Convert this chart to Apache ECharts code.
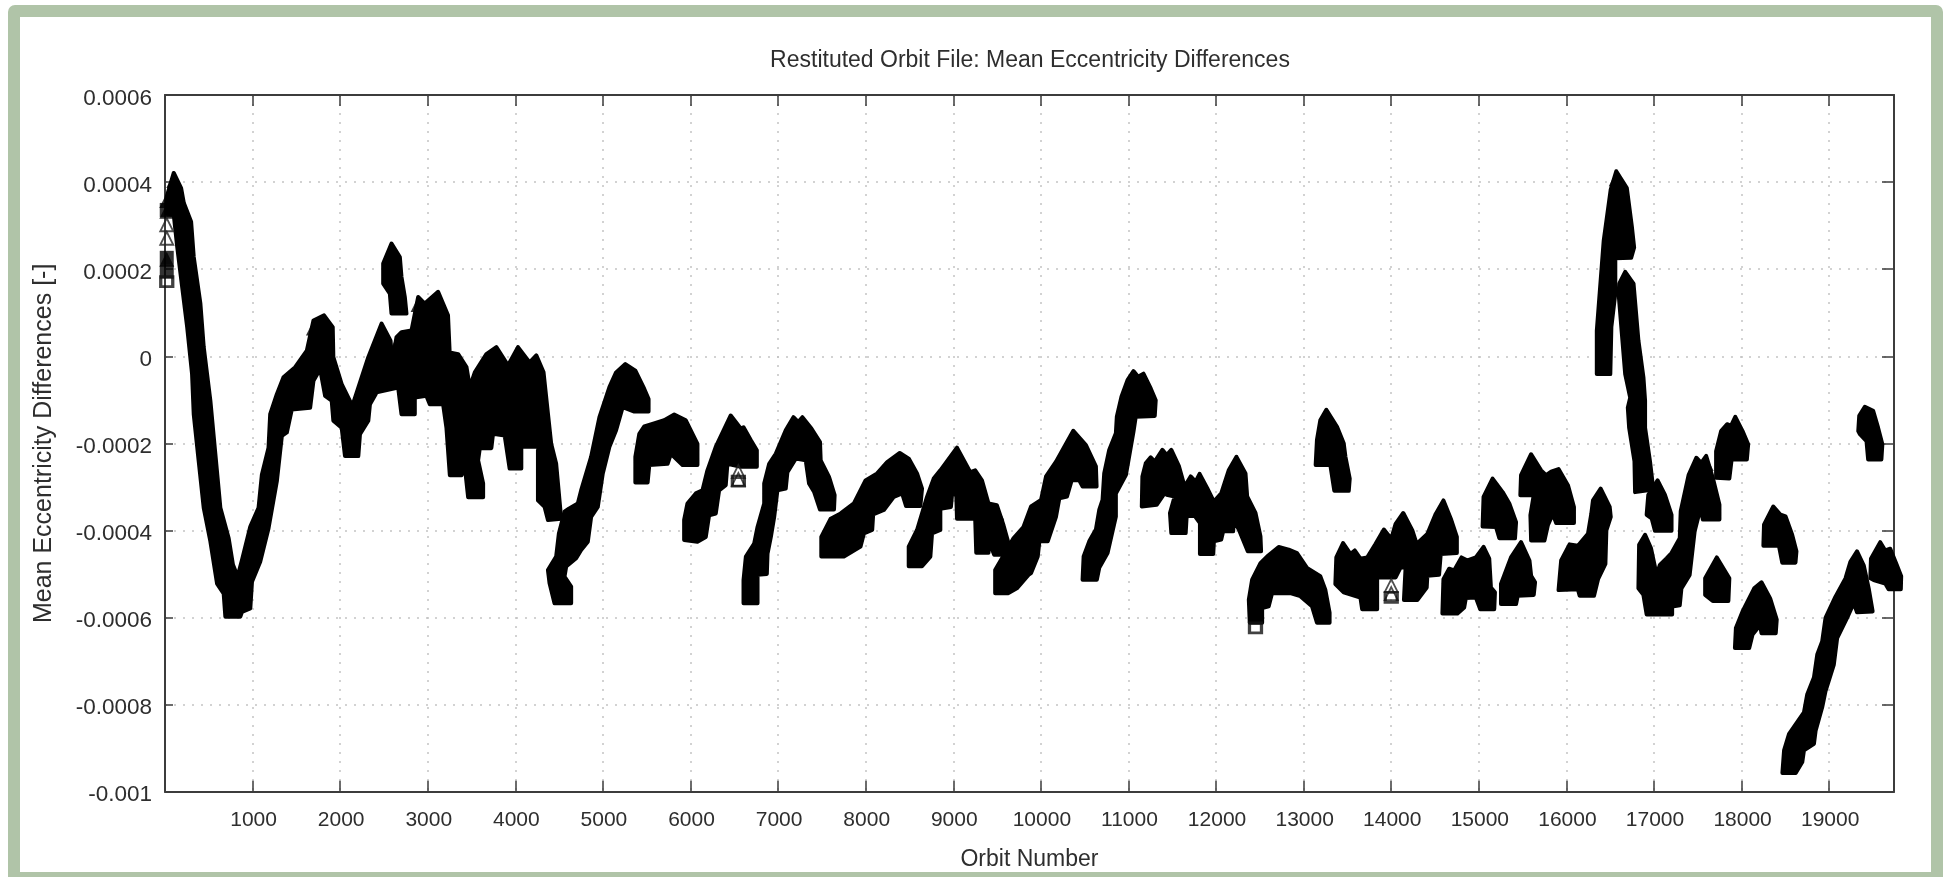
<!DOCTYPE html>
<html><head><meta charset="utf-8">
<style>
html,body{margin:0;padding:0;background:#fff;overflow:hidden}
#frame{position:absolute;left:8px;top:5px;width:1911px;height:855px;border:solid #b0c4a8;border-width:12px 12px 5px 12px;border-radius:7px 7px 0 0}
#c{position:absolute;left:0;top:0;width:1947px;height:877px;filter:blur(0.55px)}
</style>
<script src="https://cdn.jsdelivr.net/npm/echarts@6/dist/echarts.min.js"></script>
</head><body><div id="frame"></div><div id="c"></div>
<script>
// Values are [orbit number, difference in units of 1e-4]
const UNIT = 1e-4;
const xTickLabels = ['1000','2000','3000','4000','5000','6000','7000','8000','9000','10000','11000','12000','13000','14000','15000','16000','17000','18000','19000'];
const yTickLabels = ['-0.001','-0.0008','-0.0006','-0.0004','-0.0002','0','0.0002','0.0004','0.0006'];

const bandMain = [[20,3.67],[100,4.21],[184,3.86],[215,3.52],[298,3.09],[328,2.28],[404,1.21],[442,0.21],[518,-1.02],[575,-2.25],[632,-3.48],[727,-4.18],[776,-4.79],[829,-5.06],[879,-4.68],[974,-3.91],[1068,-3.48],[1106,-2.72],[1182,-2.10],[1201,-1.33],[1277,-0.87],[1353,-0.48],[1486,-0.25],[1619,0.13],[1695,0.82],[1816,0.94],[1915,0.67],[1922,-0.02],[2017,-0.64],[2139,-1.14],[2207,-0.72],[2321,-0.02],[2473,0.75],[2575,0.36],[2594,-0.14],[2643,0.44],[2700,0.55],[2814,0.59],[2890,1.36],[2966,1.21],[3118,1.48],[3231,0.94],[3250,0.09],[3347,0.05],[3442,-0.25],[3480,-0.71],[3537,-0.37],[3669,0.05],[3783,0.21],[3916,-0.21],[4030,0.21],[4163,-0.14],[4239,0.02],[4322,-0.37],[4372,-1.32],[4409,-2.01],[4466,-2.47],[4523,-3.73],[4372,-3.76],[4334,-3.46],[4258,-3.31],[4258,-2.16],[4277,-2.08],[4068,-2.08],[4068,-2.58],[3935,-2.58],[3878,-1.82],[3745,-1.78],[3726,-2.11],[3594,-2.11],[3575,-2.39],[3632,-2.92],[3632,-3.24],[3461,-3.24],[3423,-2.54],[3385,-2.73],[3252,-2.73],[3213,-1.64],[3175,-1.10],[3023,-1.10],[2985,-0.91],[2852,-0.95],[2852,-1.33],[2700,-1.33],[2662,-0.72],[2416,-0.83],[2340,-1.10],[2321,-1.48],[2226,-1.79],[2207,-2.29],[2055,-2.29],[2017,-1.64],[1922,-1.48],[1903,-1.02],[1828,-0.91],[1771,-0.29],[1695,-0.56],[1657,-1.18],[1448,-1.22],[1391,-1.75],[1334,-1.83],[1277,-2.87],[1182,-3.95],[1087,-4.72],[993,-5.18],[974,-5.79],[879,-5.87],[860,-5.98],[689,-5.98],[670,-5.45],[594,-5.22],[518,-4.25],[442,-3.48],[385,-2.41],[328,-1.33],[309,-0.41],[253,0.67],[196,1.59],[139,2.52],[100,3.25],[20,3.28]];
const band2600 = [[2586,2.59],[2681,2.28],[2700,1.82],[2738,1.36],[2757,0.98],[2586,0.98],[2567,1.44],[2491,1.67],[2491,2.13]];
const band4500 = [[4447,-5.67],[4390,-5.21],[4372,-4.91],[4466,-4.60],[4497,-4.07],[4561,-3.57],[4611,-3.50],[4713,-3.38],[4751,-3.08],[4865,-2.31],[4960,-1.40],[5074,-0.71],[5150,-0.37],[5256,-0.18],[5370,-0.33],[5472,-0.75],[5521,-0.98],[5521,-1.27],[5358,-1.27],[5225,-1.17],[5150,-1.70],[5074,-2.08],[4998,-2.69],[4941,-3.46],[4865,-3.69],[4827,-4.26],[4751,-4.45],[4694,-4.64],[4580,-4.83],[4561,-5.06],[4637,-5.29],[4637,-5.67]];
const band5400 = [[5370,-2.31],[5415,-1.78],[5472,-1.61],[5574,-1.55],[5700,-1.47],[5814,-1.34],[5946,-1.47],[6079,-2.01],[6079,-2.50],[5909,-2.50],[5776,-2.24],[5738,-2.47],[5529,-2.50],[5510,-2.90],[5370,-2.90]];
const band6000 = [[5927,-4.22],[5927,-3.76],[5965,-3.38],[6060,-3.15],[6136,-3.08],[6193,-2.62],[6288,-2.08],[6459,-1.36],[6573,-1.66],[6605,-1.63],[6689,-1.93],[6757,-2.16],[6757,-2.54],[6575,-2.54],[6421,-2.47],[6402,-2.96],[6326,-3.08],[6288,-3.61],[6212,-3.65],[6174,-4.15],[6079,-4.26]];
const band6600 = [[6605,-5.67],[6605,-5.14],[6632,-4.60],[6727,-4.30],[6765,-3.92],[6841,-3.38],[6841,-2.92],[6898,-2.47],[6973,-2.24],[7087,-1.70],[7175,-1.40],[7228,-1.51],[7277,-1.40],[7380,-1.66],[7478,-1.97],[7486,-2.39],[7581,-2.77],[7645,-3.19],[7638,-3.52],[7478,-3.52],[7410,-3.11],[7353,-2.92],[7315,-2.39],[7201,-2.35],[7106,-2.66],[7087,-3.04],[6992,-3.08],[6955,-3.69],[6917,-4.15],[6879,-4.53],[6871,-5.00],[6765,-5.02],[6765,-5.67]];
const band7500 = [[7493,-4.60],[7493,-4.15],[7600,-3.73],[7714,-3.61],[7865,-3.38],[7998,-2.85],[8131,-2.69],[8245,-2.43],[8389,-2.22],[8491,-2.35],[8586,-2.69],[8643,-3.04],[8624,-3.44],[8461,-3.44],[8416,-3.15],[8321,-3.23],[8207,-3.53],[8085,-3.63],[8074,-3.99],[7979,-4.07],[7941,-4.37],[7751,-4.60]];
const band8500 = [[8491,-4.82],[8491,-4.37],[8586,-3.99],[8700,-3.23],[8776,-2.81],[8852,-2.62],[9042,-2.10],[9194,-2.66],[9250,-2.62],[9327,-2.85],[9402,-3.38],[9497,-3.42],[9573,-3.88],[9641,-4.37],[9630,-4.56],[9467,-4.56],[9402,-4.22],[9402,-4.51],[9262,-4.51],[9250,-3.73],[9042,-3.73],[9034,-3.15],[8985,-3.19],[8973,-3.46],[8852,-3.50],[8852,-3.99],[8757,-4.07],[8738,-4.60],[8643,-4.82]];
const band9500 = [[9478,-5.44],[9478,-4.91],[9611,-4.45],[9687,-4.18],[9801,-3.92],[9888,-3.45],[10002,-3.30],[10059,-2.76],[10173,-2.42],[10370,-1.71],[10514,-2.04],[10628,-2.53],[10636,-2.99],[10476,-2.99],[10438,-2.85],[10351,-2.85],[10298,-3.22],[10211,-3.26],[10173,-3.68],[10078,-4.25],[9983,-4.25],[9964,-4.60],[9888,-4.98],[9858,-5.02],[9725,-5.33],[9630,-5.44]];
const band10500 = [[10476,-5.13],[10488,-4.60],[10552,-4.25],[10628,-3.98],[10666,-3.53],[10704,-3.30],[10723,-2.69],[10780,-2.15],[10856,-1.77],[10867,-1.39],[10920,-0.93],[10989,-0.55],[11057,-0.34],[11110,-0.47],[11171,-0.40],[11254,-0.74],[11311,-1.01],[11300,-1.37],[11083,-1.39],[11057,-1.73],[10970,-2.73],[10856,-3.15],[10856,-3.68],[10761,-4.52],[10666,-4.86],[10639,-5.13]];
const band11200 = [[11152,-3.45],[11159,-2.76],[11197,-2.46],[11254,-2.32],[11300,-2.42],[11387,-2.15],[11436,-2.27],[11489,-2.15],[11577,-2.53],[11641,-2.99],[11710,-2.76],[11767,-2.88],[11812,-2.70],[11899,-3.03],[11975,-3.34],[12059,-3.15],[12146,-2.61],[12233,-2.31],[12336,-2.69],[12355,-3.22],[12450,-3.60],[12507,-4.14],[12514,-4.48],[12362,-4.48],[12260,-3.98],[12203,-3.76],[12195,-4.02],[12081,-4.02],[12059,-4.21],[11975,-4.25],[11968,-4.54],[11816,-4.54],[11816,-3.83],[11748,-3.64],[11664,-3.68],[11653,-4.06],[11489,-4.06],[11474,-3.60],[11527,-3.22],[11436,-3.18],[11425,-3.11],[11322,-3.41]];
const band12400 = [[12385,-6.12],[12374,-5.59],[12412,-5.13],[12507,-4.75],[12582,-4.60],[12715,-4.38],[12829,-4.44],[12924,-4.52],[13038,-4.86],[13190,-5.05],[13247,-5.36],[13296,-5.89],[13296,-6.12],[13152,-6.12],[13095,-5.74],[12962,-5.51],[12848,-5.44],[12639,-5.44],[12601,-5.74],[12526,-5.78],[12526,-6.12]];
const band13200 = [[13137,-2.5],[13152,-1.92],[13190,-1.47],[13259,-1.23],[13381,-1.62],[13457,-2],[13477,-2.31],[13526,-2.81],[13515,-3.09],[13350,-3.09],[13305,-2.5]];
const band13400 = [[13362,-5.23],[13373,-4.62],[13450,-4.29],[13534,-4.54],[13583,-4.46],[13648,-4.65],[13725,-4.62],[13820,-4.31],[13916,-3.98],[14000,-4.19],[14050,-3.85],[14137,-3.60],[14241,-4.0],[14290,-4.31],[14412,-4.08],[14508,-3.62],[14596,-3.31],[14680,-3.73],[14749,-4.15],[14749,-4.52],[14565,-4.54],[14546,-5.02],[14412,-5.04],[14405,-5.31],[14298,-5.60],[14145,-5.60],[14164,-4.85],[14107,-4.85],[14050,-5.08],[13839,-5.08],[13839,-5.81],[13668,-5.81],[13648,-5.54],[13457,-5.42]];
const band14600 = [[14584,-5.91],[14596,-5.12],[14661,-4.88],[14718,-4.92],[14802,-4.62],[14871,-4.69],[14966,-4.62],[15054,-4.38],[15119,-4.65],[15138,-5.31],[15184,-5.42],[15176,-5.81],[15016,-5.81],[14966,-5.54],[14852,-5.55],[14833,-5.77],[14756,-5.91]];
const band15300 = [[15253,-5.69],[15253,-5.23],[15367,-4.62],[15482,-4.27],[15578,-4.69],[15597,-5.04],[15642,-5.19],[15627,-5.48],[15444,-5.50],[15425,-5.69]];
const band15100 = [[15043,-3.91],[15054,-3.23],[15157,-2.81],[15272,-3.12],[15348,-3.38],[15425,-3.81],[15413,-4.18],[15234,-4.18],[15196,-3.92]];
const band15500 = [[15474,-3.19],[15482,-2.73],[15597,-2.25],[15711,-2.62],[15768,-2.73],[15826,-2.65],[15910,-2.59],[16017,-2.96],[16086,-3.46],[16086,-3.83],[15883,-3.83],[15845,-3.62],[15788,-3.88],[15749,-4.23],[15597,-4.23],[15589,-3.65],[15627,-3.19]];
const band16000 = [[15910,-5.37],[15940,-4.69],[16036,-4.32],[16131,-4.35],[16246,-4.08],[16284,-3.62],[16303,-3.31],[16391,-3.04],[16494,-3.46],[16506,-3.69],[16456,-4.0],[16445,-4.77],[16361,-5.12],[16315,-5.50],[16151,-5.50],[16131,-5.35]];
const band16500 = [[16347,-0.41],[16347,0.59],[16426,2.66],[16505,3.82],[16569,4.25],[16690,3.86],[16747,2.98],[16773,2.5],[16739,2.26],[16558,2.25],[16558,1.44],[16513,0.67],[16501,-0.41]];
const band16700 = [[16596,1.44],[16603,1.67],[16671,1.94],[16766,1.67],[16822,0.36],[16879,-0.48],[16898,-1.02],[16898,-1.64],[16954,-2.41],[16992,-3.06],[16784,-3.12],[16777,-2.41],[16716,-1.64],[16701,-1.18],[16728,-0.95],[16671,-0.41],[16633,0.52]];
const band17000 = [[16916,-3.64],[16935,-3.18],[17041,-2.85],[17124,-3.18],[17200,-3.64],[17200,-4.01],[17011,-4.01],[16973,-3.72]];
const band16900 = [[16822,-5.33],[16830,-4.33],[16898,-4.10],[16966,-4.41],[17030,-5.02],[17067,-4.79],[17143,-4.64],[17200,-4.52],[17294,-4.18],[17305,-3.56],[17396,-2.72],[17483,-2.33],[17539,-2.45],[17596,-2.29],[17671,-2.79],[17747,-3.41],[17747,-3.75],[17558,-3.75],[17532,-3.48],[17464,-4.02],[17407,-5.02],[17313,-5.33],[17294,-5.72],[17207,-5.75],[17207,-5.93],[16916,-5.93],[16879,-5.48]];
const band17700 = [[17709,-2.79],[17709,-2.18],[17766,-1.72],[17834,-1.56],[17879,-1.60],[17928,-1.39],[18011,-1.72],[18075,-2.02],[18060,-2.37],[17886,-2.37],[17860,-2.81]];
const band18300 = [[18249,-4.35],[18256,-3.87],[18362,-3.45],[18445,-3.64],[18502,-3.68],[18577,-4.10],[18626,-4.48],[18615,-4.74],[18464,-4.74],[18426,-4.35]];
const band17600 = [[17584,-5.48],[17584,-5.10],[17717,-4.62],[17860,-5.10],[17849,-5.62],[17671,-5.62]];
const band18000 = [[17924,-6.70],[17935,-6.24],[18011,-5.86],[18144,-5.33],[18227,-5.19],[18326,-5.56],[18401,-6.05],[18390,-6.36],[18227,-6.36],[18212,-6.17],[18125,-6.39],[18087,-6.70]];
const band18500 = [[18466,-9.57],[18485,-9.05],[18542,-8.67],[18712,-8.18],[18750,-7.76],[18826,-7.38],[18864,-6.85],[18920,-6.55],[18958,-6.01],[19072,-5.52],[19186,-5.10],[19242,-4.72],[19318,-4.48],[19394,-4.80],[19451,-5.33],[19496,-5.86],[19318,-5.88],[19280,-5.67],[19204,-6.01],[19091,-6.47],[19053,-7.08],[18958,-7.69],[18920,-8.06],[18845,-8.60],[18826,-8.90],[18712,-9.05],[18693,-9.32],[18618,-9.57]];
const band19500 = [[19470,-5.10],[19477,-4.65],[19583,-4.27],[19640,-4.46],[19697,-4.42],[19773,-4.80],[19822,-5.05],[19818,-5.35],[19678,-5.35],[19640,-5.22],[19508,-5.14]];
const band19400 = [[19332,-1.72],[19343,-1.37],[19407,-1.16],[19502,-1.25],[19558,-1.64],[19607,-2.02],[19596,-2.37],[19445,-2.37],[19426,-1.95],[19351,-1.79]];

const trianglePeaks = [[20,3.75],[20,3.5],[20,2.4],[100,4.21],[1695,0.82],[1816,0.94],[2473,0.75],[2586,2.59],[2643,0.44],[2700,0.55],[2890,1.36],[3118,1.48],[3347,0.05],[3669,0.05],[3783,0.21],[4030,0.21],[4239,0.02],[4611,-3.5],[5256,-0.18],[5370,-0.33],[5472,-1.61],[5574,-1.55],[5700,-1.47],[5814,-1.34],[5946,-1.47],[6459,-1.36],[6605,-1.63],[7175,-1.4],[7277,-1.4],[7714,-3.61],[8131,-2.69],[8245,-2.43],[8389,-2.22],[8491,-2.35],[9042,-2.1],[9250,-2.62],[9497,-3.42],[10370,-1.71],[11057,-0.34],[11171,-0.4],[11254,-2.32],[11387,-2.15],[11489,-2.15],[11710,-2.76],[11812,-2.7],[12233,-2.31],[12715,-4.38],[12829,-4.44],[13259,-1.23],[13450,-4.29],[13583,-4.46],[13916,-3.98],[14137,-3.6],[14596,-3.31],[14661,-4.88],[14802,-4.62],[15054,-4.38],[15482,-4.27],[15157,-2.81],[15597,-2.25],[15910,-2.59],[16036,-4.32],[16391,-3.04],[16569,4.25],[16671,1.94],[17041,-2.85],[16898,-4.1],[17143,-4.64],[17483,-2.33],[17596,-2.29],[17834,-1.56],[17928,-1.39],[18362,-3.45],[17717,-4.62],[18227,-5.19],[19318,-4.48],[19583,-4.27],[19697,-4.42],[19407,-1.16]];
const squareBases = [[20,3.2],[20,1.78],[20,2.1]];
const hollowTriangles = [[20,3.17],[20,2.86],[6546,-2.5],[6546,-2.68],[14000,-5.12],[14000,-5.3]];
const hollowSquares = [[20,1.6],[6546,-2.98],[12450,-6.35],[14000,-5.65]];

const bands = [bandMain,band2600,band4500,band5400,band6000,band6600,band7500,band8500,band9500,band10500,band11200,band12400,band13200,band13400,band14600,band15300,band15100,band15500,band16000,band16500,band16700,band17000,band16900,band17700,band18300,band17600,band18000,band18500,band19500,band19400];
const scaled = a => a.map(p => [p[0], p[1]*UNIT]);

const fontFamily = '"Liberation Sans", Arial, sans-serif';
const axisColor = '#3c3c3c', textColor = '#2e2e2e';
const baseAxis = {
  axisLine:{show:true,onZero:false,lineStyle:{color:axisColor,width:2}},
  axisTick:{show:true,inside:true,lineStyle:{color:axisColor,width:1.5}},
};
const xAxisBase = Object.assign({}, baseAxis, {type:'value',min:0,max:19740,interval:1000});
const yAxisBase = Object.assign({}, baseAxis, {type:'value',min:-0.001,max:0.0006,interval:0.0002});

const chart = echarts.init(document.getElementById('c'), null, {renderer:'canvas'});
chart.setOption({
  backgroundColor:'transparent',
  animation:false,
  title:{text:'Restituted Orbit File: Mean Eccentricity Differences',left:1025,top:44,textAlign:'center',
    textStyle:{color:textColor,fontFamily,fontSize:23,fontWeight:'normal'}},
  grid:{left:165,top:95,width:1729,height:696.7,containLabel:false},
  xAxis:[
    Object.assign({}, xAxisBase, {
      position:'bottom',
      name:'Orbit Number',nameLocation:'middle',nameGap:56,
      nameTextStyle:{color:textColor,fontFamily,fontSize:23},
      axisTick:Object.assign({}, baseAxis.axisTick,{length:11}),
      axisLabel:{show:true,color:textColor,fontFamily,fontSize:21,margin:18,showMaxLabel:false,showMinLabel:false,padding:[0,0,0,2],
        formatter:v=>xTickLabels.includes(String(v))?String(v):''},
      splitLine:{show:true,lineStyle:{color:'#c4c4c4',type:[2,7],width:1.5}}
    }),
    Object.assign({}, xAxisBase, {position:'top',axisTick:Object.assign({}, baseAxis.axisTick,{length:11}),axisLabel:{show:false},splitLine:{show:false}})
  ],
  yAxis:[
    Object.assign({}, yAxisBase, {
      position:'left',
      name:'Mean Eccentricity Differences [-]',nameLocation:'middle',nameGap:108,nameRotate:90,
      nameTextStyle:{color:textColor,fontFamily,fontSize:25},
      axisTick:Object.assign({}, baseAxis.axisTick,{length:8}),
      axisLabel:{show:true,color:textColor,fontFamily,fontSize:22.5,margin:13,verticalAlign:'top',lineHeight:7,
        formatter:v=>yTickLabels[Math.round((v+0.001)/0.0002)]},
      splitLine:{show:true,lineStyle:{color:'#c4c4c4',type:[2,7],width:1.5}}
    }),
    Object.assign({}, yAxisBase, {position:'right',axisTick:Object.assign({}, baseAxis.axisTick,{length:12}),axisLabel:{show:false},splitLine:{show:false}})
  ],
  series:[
    {type:'custom',clip:false,silent:true,z:3,
      data:bands.map(b=>[b[0][0],b[0][1]*UNIT]),
      renderItem:(params,api)=>({
        type:'polygon',
        shape:{points:bands[params.dataIndex].map(p=>api.coord([p[0],p[1]*UNIT]))},
        style:{fill:'#000',stroke:'#000',lineWidth:4,lineJoin:'round'}
      })},
    {type:'scatter',clip:false,silent:true,z:4,symbol:'triangle',symbolSize:[15,15],symbolOffset:[0,'50%'],
      itemStyle:{color:'#000'},data:scaled(trianglePeaks)},
    {type:'scatter',clip:false,silent:true,z:4,symbol:'rect',symbolSize:[14,14],symbolOffset:[0,'-50%'],
      itemStyle:{color:'#000'},data:scaled(squareBases)},
    {type:'scatter',clip:false,silent:true,z:5,symbol:'triangle',symbolSize:[13,13],symbolOffset:[0,'50%'],
      itemStyle:{color:'transparent',borderColor:'#222',borderWidth:1.8},data:scaled(hollowTriangles)},
    {type:'scatter',clip:false,silent:true,z:5,symbol:'rect',symbolSize:[12,10],symbolOffset:[0,'-50%'],
      itemStyle:{color:'transparent',borderColor:'#111',borderWidth:3},data:scaled(hollowSquares)}
  ]
});
</script></body></html>
